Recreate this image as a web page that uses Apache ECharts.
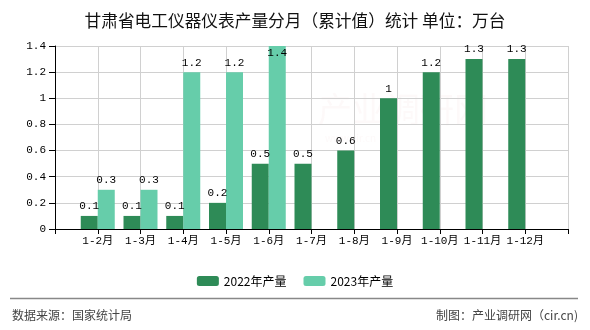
<!DOCTYPE html>
<html>
<head>
<meta charset="utf-8">
<script src="https://cdn.jsdelivr.net/npm/echarts@6/dist/echarts.min.js"></script>
<style>
  html, body { margin: 0; padding: 0; background: #fff; }
  #chart { width: 590px; height: 330px; }
</style>
</head>
<body>
<div id="chart"></div>
<script>
// Monthly cumulative output, unit: 10k units
const categories = ['', '1-2月', '1-3月', '1-4月', '1-5月', '1-6月', '1-7月', '1-8月', '1-9月', '1-10月', '1-11月', '1-12月', ''];
const output2022 = [null, 0.1, 0.1, 0.1, 0.2, 0.5, 0.5, 0.6, 1, 1.2, 1.3, 1.3, null];
const output2023 = [null, 0.3, 0.3, 1.2, 1.2, 1.4, null, null, null, null, null, null, null];
const yTicks = { min: 0, max: 1.4, interval: 0.2 };
const seriesNames = ['2022年产量', '2023年产量'];
const titleText = '甘肃省电工仪器仪表产量分月（累计值）统计 单位：万台';
const sourceText = '数据来源：国家统计局';
const creditText = '制图：产业调研网（cir.cn)';

const axisFont = '"Liberation Mono", "Noto Sans CJK SC", monospace';
const cjkFont = '"Noto Sans CJK SC", sans-serif';

function withTopLabel(values, yMax) {
  // a bar that reaches the top of the axis keeps its label inside
  return values.map(v => (v === yMax ? { value: v, label: { position: 'insideTop', distance: 2 } } : v));
}

const chart = echarts.init(document.getElementById('chart'), null, { renderer: 'canvas' });
chart.setOption({
  animation: false,
  backgroundColor: '#fff',
  title: {
    text: titleText,
    left: 'center',
    top: 7,
    textStyle: { fontFamily: cjkFont, fontSize: 16.7, fontWeight: 'normal', color: '#111' }
  },
  legend: {
    data: seriesNames,
    left: 'center',
    top: 270,
    itemWidth: 22,
    itemHeight: 10,
    itemGap: 17,
    textStyle: { fontFamily: cjkFont, fontSize: 12, color: '#000' }
  },
  grid: { left: 55, right: 22, top: 46, bottom: 101, containLabel: false },
  xAxis: {
    type: 'category',
    data: categories,
    boundaryGap: false,
    axisLine: { lineStyle: { color: '#000', width: 1 } },
    axisTick: { show: true, length: 5, lineStyle: { color: '#000' } },
    axisLabel: { interval: 0, fontFamily: axisFont, fontSize: 11, color: '#000', margin: 7 },
    splitLine: { show: true, lineStyle: { color: '#d0d0d0' } }
  },
  yAxis: {
    type: 'value',
    min: yTicks.min,
    max: yTicks.max,
    interval: yTicks.interval,
    axisLine: { show: true, lineStyle: { color: '#000' } },
    axisTick: { show: true, length: 6, lineStyle: { color: '#000' } },
    axisLabel: { fontFamily: axisFont, fontSize: 11, color: '#000', margin: 9 },
    splitLine: { show: true, lineStyle: { color: '#d0d0d0' } }
  },
  series: [
    {
      name: seriesNames[0],
      type: 'bar',
      data: withTopLabel(output2022, yTicks.max),
      barWidth: 17,
      barGap: '0%',
      itemStyle: { color: '#2e8b57' },
      label: { show: true, position: 'top', distance: 4, fontFamily: axisFont, fontSize: 11, color: '#000' }
    },
    {
      name: seriesNames[1],
      type: 'bar',
      data: withTopLabel(output2023, yTicks.max),
      barWidth: 17,
      barGap: '0%',
      itemStyle: { color: '#66cdaa' },
      label: { show: true, position: 'top', distance: 4, fontFamily: axisFont, fontSize: 11, color: '#000' }
    }
  ],
  graphic: [
    {
      type: 'text', left: 318, top: 92, z: -1, silent: true,
      style: { text: '产业调研网', fontFamily: cjkFont, fontSize: 34, fill: 'rgba(220,120,120,0.045)' }
    },
    {
      type: 'text', left: 325, top: 133, z: -1, silent: true,
      style: { text: 'www.cir.cn', fontFamily: cjkFont, fontSize: 10, fill: 'rgba(220,120,120,0.045)' }
    },
    {
      type: 'line', silent: true,
      shape: { x1: 10, y1: 298.5, x2: 578, y2: 298.5 },
      style: { stroke: '#888', lineWidth: 1.5 }
    },
    {
      type: 'text', left: 12, top: 309, silent: true,
      style: { text: sourceText, fontFamily: cjkFont, fontSize: 12, fill: '#444' }
    },
    {
      type: 'text', right: 12, top: 309, silent: true,
      style: { text: creditText, fontFamily: cjkFont, fontSize: 12, fill: '#444' }
    }
  ]
});
</script>
</body>
</html>
